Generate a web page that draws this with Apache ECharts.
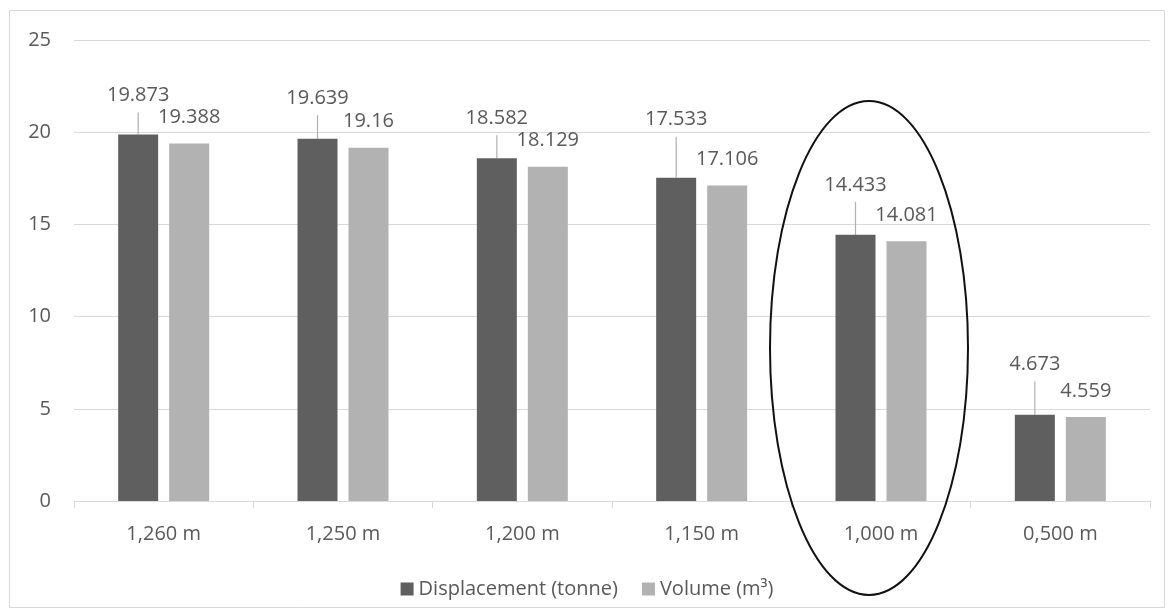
<!DOCTYPE html>
<html>
<head>
<meta charset="utf-8">
<script src="https://cdn.jsdelivr.net/npm/echarts@6/dist/echarts.min.js"></script>
<style>html,body{margin:0;padding:0;background:#fff}#c{width:1174px;height:616px}</style>
</head>
<body>
<div id="c"></div>
<script>
const categories = ['1,260 m', '1,250 m', '1,200 m', '1,150 m', '1,000 m', '0,500 m'];
const displacement = [19.873, 19.639, 18.582, 17.533, 14.433, 4.673];
const volume = [19.388, 19.16, 18.129, 17.106, 14.081, 4.559];
const seriesNames = ['Displacement (tonne)', 'Volume (m³)'];
const yTicks = { min: 0, max: 25, interval: 5 };

// styling: vertical shifts (px) of the moved Displacement labels
const labelShift = [-6, -7.5, -7, -25, -17, -17.5];

const FONT = '"Open Sans", "Noto Sans", sans-serif';
const TXT = '#595959';
const chart = echarts.init(document.getElementById('c'), null, { renderer: 'canvas' });

const option = {
  animation: false,
  backgroundColor: '#ffffff',
  textStyle: { fontFamily: FONT },
  grid: { left: 74, right: 24, top: 40, bottom: 115, containLabel: false },
  legend: {
    data: seriesNames,
    top: 574,
    left: 'center',
    itemWidth: 13,
    itemHeight: 13,
    itemGap: 24,
    icon: 'rect',
    textStyle: { fontFamily: FONT, fontSize: 20, color: TXT }
  },
  xAxis: {
    type: 'category',
    data: categories,
    axisLine: { show: true, lineStyle: { color: '#d9d9d9', width: 1 } },
    axisTick: { show: true, length: 7, lineStyle: { color: '#d9d9d9' } },
    axisLabel: { fontFamily: FONT, fontSize: 20, color: TXT, margin: 23 }
  },
  yAxis: {
    type: 'value',
    min: yTicks.min, max: yTicks.max, interval: yTicks.interval,
    axisLine: { show: false },
    axisTick: { show: false },
    splitLine: { lineStyle: { color: '#d9d9d9', width: 1 } },
    axisLabel: { fontFamily: FONT, fontSize: 20, color: TXT, margin: 23 }
  },
  series: [
    {
      name: seriesNames[0],
      type: 'bar',
      data: displacement,
      barWidth: 40,
      barGap: '27.5%',
      itemStyle: { color: '#5f5f5f' },
      label: {
        show: true, position: 'top', distance: 16,
        fontFamily: FONT, fontSize: 20, color: TXT, lineHeight: 20,
        backgroundColor: 'rgba(255,255,255,0)', padding: [0, 0, 7, 0]
      },
      labelLayout: function (p) { return { dy: labelShift[p.dataIndex] }; },
      labelLine: { show: true, lineStyle: { color: '#b0b0b0', width: 1.2 } }
    },
    {
      name: seriesNames[1],
      type: 'bar',
      data: volume,
      barWidth: 40,
      itemStyle: { color: '#b2b2b2' },
      label: {
        show: true, position: 'top', distance: 16,
        fontFamily: FONT, fontSize: 20, color: TXT, lineHeight: 20
      }
    }
  ]
};
chart.setOption(option);

// annotation ellipse around the 1,000 m group
const centre = chart.convertToPixel({ gridIndex: 0 }, [categories[4], 8.3]);
chart.setOption({
  graphic: [
    {
      type: 'rect', silent: true, z: -1,
      shape: { x: 9.5, y: 10.5, width: 1155, height: 597 },
      style: { fill: 'none', stroke: '#d9d9d9', lineWidth: 1 }
    },
    {
      type: 'ellipse', silent: true, z: 100,
      shape: { cx: centre[0] - 12, cy: centre[1], rx: 99, ry: 247 },
      style: { fill: 'none', stroke: '#111111', lineWidth: 2 }
    }
  ]
});
</script>
</body>
</html>
